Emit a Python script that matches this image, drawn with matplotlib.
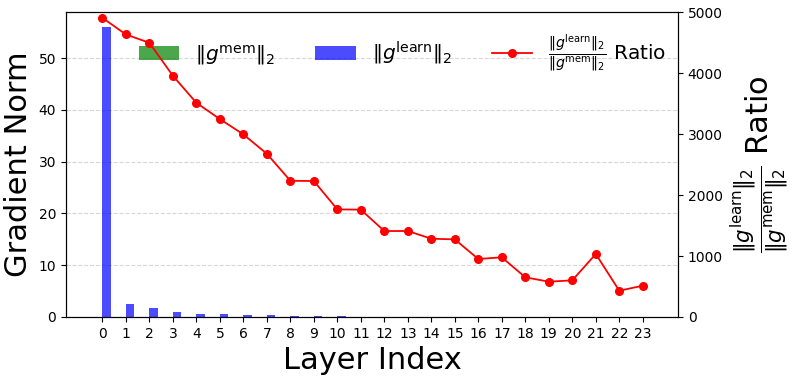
import matplotlib
matplotlib.use("Agg")
import matplotlib.pyplot as plt
import numpy as np

layers = list(range(24))
g_learn = [56.0, 2.6, 1.75, 1.05, 0.65, 0.5, 0.4, 0.3, 0.2, 0.15, 0.12, 0.08,
           0.06, 0.05, 0.05, 0.04, 0.04, 0.04, 0.03, 0.03, 0.03, 0.03, 0.03, 0.03]
g_mem = [0.0114, 0.0006, 0.0004, 0.0003, 0.0002, 0.00015, 0.00013, 0.0001, 0.0001, 0.00007, 0.00007, 0.00005,
         0.00004, 0.00004, 0.00004, 0.00003, 0.00004, 0.00004, 0.00005, 0.00005, 0.00005, 0.00003, 0.00007, 0.00006]
ratio = [4907, 4634, 4497, 3956, 3513, 3246, 2995, 2677, 2234, 2230, 1765, 1760,
         1410, 1410, 1284, 1273, 951, 979, 651, 579, 601, 1033, 431, 513]

fig = plt.figure(figsize=(7.93, 3.79), dpi=100)
ax1 = fig.add_subplot(111)
fig.subplots_adjust(left=0.0832, right=0.855, top=0.968, bottom=0.1636)

x = np.arange(len(layers))
w = 0.35
b1 = ax1.bar(x - w / 2, g_mem, w, color='green', alpha=0.7, label=r'$\|g^{\mathrm{mem}}\|_2$')
b2 = ax1.bar(x + w / 2, g_learn, w, color='blue', alpha=0.7, label=r'$\|g^{\mathrm{learn}}\|_2$')
ax1.set_ylim(0, 58.9)
ax1.set_xlim(-1.55, 24.5)
ax1.set_xticks(x)
ax1.set_xticklabels([str(l) for l in layers], fontsize=10)
ax1.tick_params(axis='y', labelsize=10)
ax1.set_xlabel('Layer Index', fontsize=22)
ax1.set_ylabel('Gradient Norm', fontsize=22)
ax1.grid(axis='y', linestyle='--', alpha=0.5)
ax1.set_axisbelow(True)

ax2 = ax1.twinx()
l1, = ax2.plot(x, ratio, color='red', marker='o', markersize=5.5, linewidth=1.3,
               label=r'$\frac{\|g^{\mathrm{learn}}\|_2}{\|g^{\mathrm{mem}}\|_2}$ Ratio')
ax2.set_ylim(0, 5000)
ax2.tick_params(axis='y', labelsize=10)
ax2.set_ylabel(r'$\frac{\|g^{\mathrm{learn}}\|_2}{\|g^{\mathrm{mem}}\|_2}$ Ratio', fontsize=22)

ax1.legend([b1, b2, l1], [b1.get_label(), b2.get_label(), l1.get_label()],
           loc='upper center', bbox_to_anchor=(0.55, 0.99), ncol=3, frameon=False, fontsize=14.5)

fig.savefig('out.png', dpi=100)
